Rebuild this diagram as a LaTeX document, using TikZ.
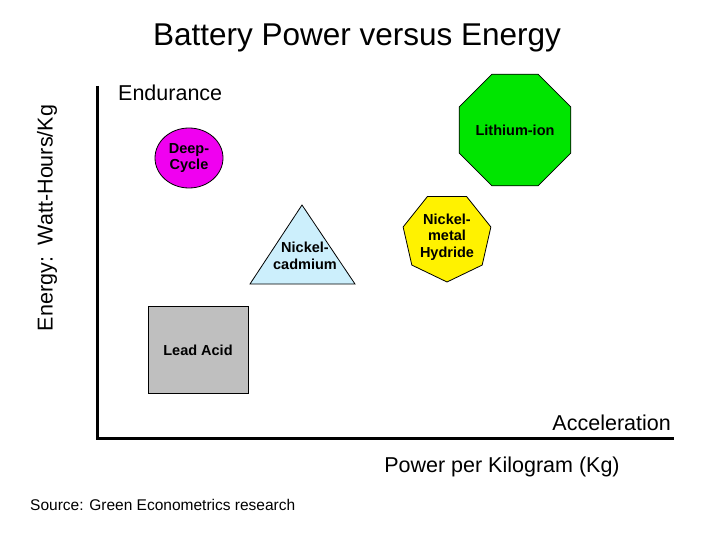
\documentclass[tikz,border=0pt]{standalone}
\usepackage{fontspec}
\setmainfont{Liberation Sans}
\usetikzlibrary{shapes.geometric}
\begin{document}
\begin{tikzpicture}[x=1pt,y=-1pt,
  shp/.style={draw=black,thick,align=center,font=\fontsize{14.5}{16.5}\selectfont\bfseries,inner sep=0pt},
  lbl/.style={font=\fontsize{21.5}{24}\selectfont,inner sep=0pt}]
\useasboundingbox (0,0) rectangle (720,540);
\node[font=\fontsize{31.5}{34}\selectfont] (title) at (357,38) {Battery Power versus Energy};
\coordinate (top) at (97,86);
\coordinate (org) at (97,438);
\coordinate (right) at (674,438);
\draw[line width=3pt] (top) -- (org) -- (right);
\node[lbl,anchor=west] (end) at (118,93) {Endurance};
\node[lbl,anchor=east] (acc) at (671,423) {Acceleration};
\node[lbl] (xl) at (502,467) {Power per Kilogram (Kg)};
\node[lbl,rotate=90] (yl) at (47,218) {Energy:\ \ Watt-Hours/Kg};
\node[anchor=west,font=\fontsize{15.5}{17}\selectfont,inner sep=0pt] (src) at (30,505) {Source: Green Econometrics research};
\node[shp,ellipse,fill=magenta!80!blue!100,fill={rgb,255:red,240;green,0;blue,240},minimum width=68,minimum height=60] (dc) at (189,158) {Deep-\\Cycle};
\draw[thick,fill=cyan!20] (302,205) -- (355,284) -- (250,284) -- cycle;
\node[shp,draw=none] (nc) at (305,256) {Nickel-\\cadmium};
\node[shp,rectangle,fill=black!25,minimum width=100,minimum height=87] (la) at (198,350) {Lead Acid};
\node[shp,regular polygon,regular polygon sides=7,shape border rotate=180,fill=yellow,minimum size=90] (nm) at (447,237) {Nickel-\\metal\\Hydride};
\node[shp,regular polygon,regular polygon sides=8,fill=green!90!black,minimum size=116] (li) at (515,130) {Lithium-ion};
\end{tikzpicture}
\end{document}
